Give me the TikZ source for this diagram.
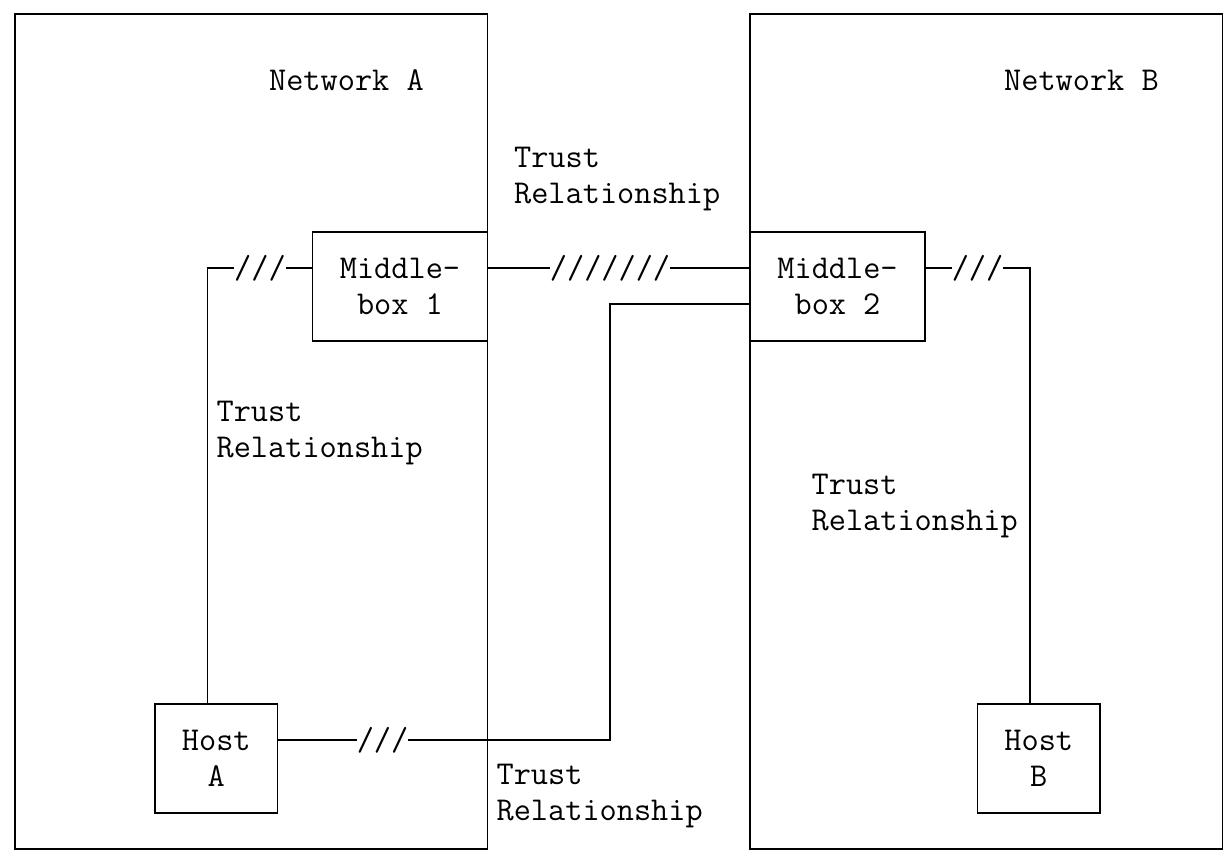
\documentclass[tikz,border=0pt]{standalone}
\usepackage{tikz}
\tikzset{lbl/.style = {font = \ttfamily\fontsize{16.67}{18.15}\selectfont, inner sep = 0, align = left}}
\tikzset{netbox/.style = {draw, line width = 0.9pt, inner sep = 0, minimum width = 236.25pt, minimum height = 417.45pt}}
\tikzset{midbox/.style = {lbl, draw, line width = 0.9pt, align = center, minimum width = 87.5pt, minimum height = 54.45pt}}
\tikzset{hostbox/.style = {lbl, draw, line width = 0.9pt, align = center, minimum width = 61.25pt, minimum height = 54.45pt}}
\tikzset{link/.style = {line width = 0.9pt}}
\tikzset{brk/.style = {lbl, fill = white}}

\begin{document}
\begin{tikzpicture}[x = 8.75pt, y = -18.15pt]
  \useasboundingbox (-7.5pt, 7pt) rectangle (607.5pt, -420pt);
  \node [netbox] (netA) at (13.5, 11.5) {};
  \node [netbox] (netB) at (55.5, 11.5) {};
  \node [lbl, anchor = mid west] (netAname) at (14.5, 2) {Network A};
  \node [lbl, anchor = mid west] (netBname) at (56.5, 2) {Network B};
  \node [midbox] (mb1) at (22, 7.5) {Middle-\\box 1};
  \node [midbox] (mb2) at (47, 7.5) {Middle-\\box 2};
  \node [hostbox] (hostA) at (11.5, 20.5) {Host\\A};
  \node [hostbox] (hostB) at (58.5, 20.5) {Host\\B};
  \coordinate (turn) at (34, 8);
  \draw [link] ([yshift = 9.075pt] mb1.east) -- ([yshift = 9.075pt] mb2.west);
  \draw [link] ([yshift = 9.075pt] mb1.west) -| ([xshift = -4.375pt] hostA.north);
  \draw [link] ([yshift = 9.075pt] mb2.east) -| ([xshift = -4.375pt] hostB.north);
  \draw [link] ([yshift = 9.075pt] hostA.east) -| (turn) -- ([yshift = -9.075pt] mb2.west);
  \node [brk] (cut12) at (34, 7) {///////};
  \node [brk] (cutA1) at (14, 7) {///};
  \node [brk] (cutB2) at (55, 7) {///};
  \node [brk] (cutA2) at (21, 20) {///};
  \node [lbl, anchor = west] (trust12) at (28.5, 4.55) {Trust\\Relationship};
  \node [lbl, anchor = west] (trustA1) at (11.5, 11.55) {Trust\\Relationship};
  \node [lbl, anchor = west] (trustB2) at (45.5, 13.55) {Trust\\Relationship};
  \node [lbl, anchor = west] (trustA2) at (27.5, 21.55) {Trust\\Relationship};
\end{tikzpicture}
\end{document}
